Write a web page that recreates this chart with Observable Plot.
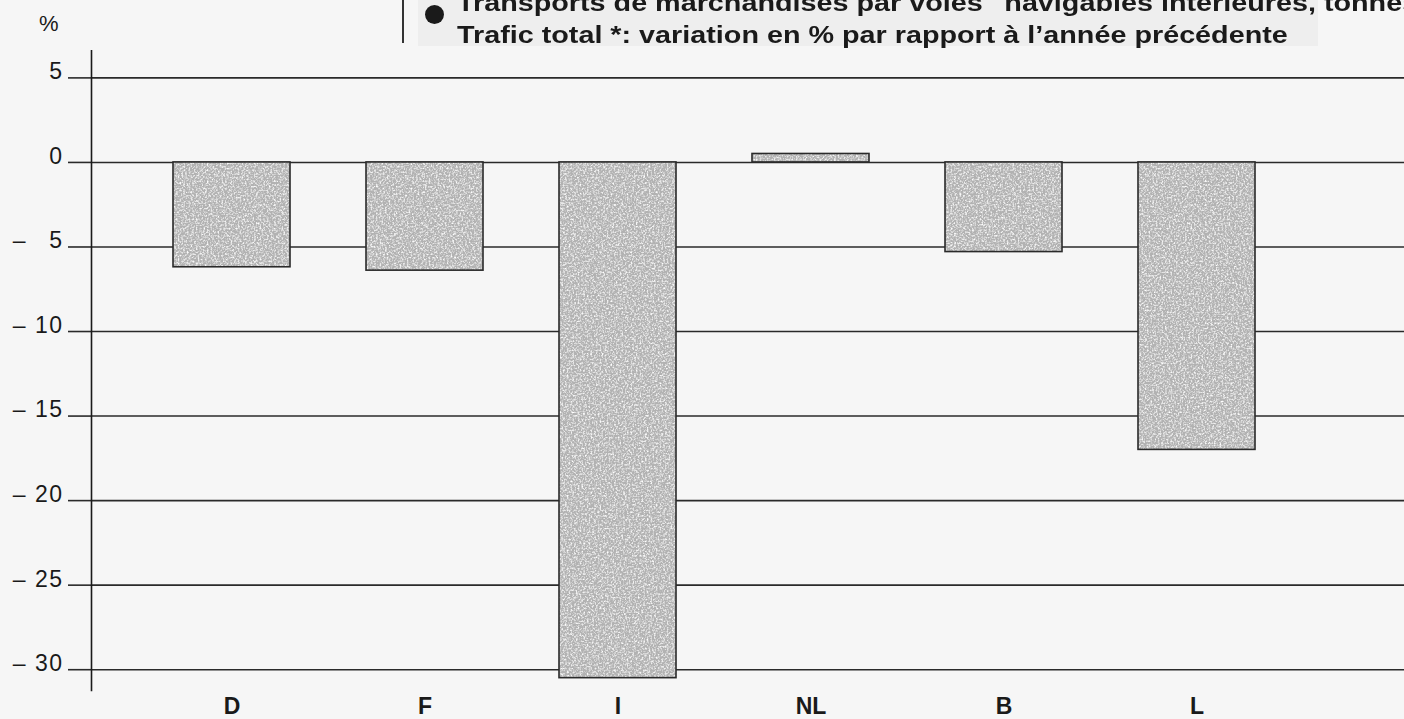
<!DOCTYPE html>
<html><head><meta charset="utf-8">
<script src="https://cdn.jsdelivr.net/npm/d3@7"></script>
<script src="https://cdn.jsdelivr.net/npm/@observablehq/plot@0.6"></script>
<style>
html,body{margin:0;padding:0;background:#f6f6f6;overflow:hidden}
#wrap{position:relative;width:1404px;height:719px;font-family:"Liberation Sans",Arial,sans-serif;color:#1a1a1a}
#head{position:relative;height:50px;overflow:hidden}
#pct{position:absolute;left:39px;top:13px;font-size:22px;line-height:22px}
#vline{position:absolute;left:402px;top:0;width:2px;height:43px;background:#333}
#tbox{position:absolute;left:418px;top:0;width:900px;height:46px;background:#eeeeee}
#bullet{position:absolute;left:425px;top:5px;width:19px;height:19px;border-radius:50%;background:#1a1a1a}
.t{position:absolute;left:457px;font-size:23px;line-height:23px;font-weight:bold;white-space:nowrap;transform:scaleX(1.25);transform-origin:0 0}
#t1{top:-8.5px}
#t2{top:23.5px}
#chart svg{display:block}
</style></head><body>
<div id="wrap">
 <div id="head">
  <div id="tbox"></div>
  <div id="pct">%</div>
  <div id="vline"></div>
  <div id="bullet"></div>
  <div class="t" id="t1">Transports de marchandises par voies "navigables intérieures, tonnes</div>
  <div class="t" id="t2">Trafic total *: variation en % par rapport à l’année précédente</div>
 </div>
 <div id="chart"></div>
</div>
<script>
const countries = ["D", "F", "I", "NL", "B", "L"];
const values = [-6.2, -6.4, -30.5, 0.5, -5.3, -17.0];
const yTicks = [5, 0, -5, -10, -15, -20, -25, -30];
const yTickLabels = ["5", "0", "– \u20075", "– 10", "– 15", "– 20", "– 25", "– 30"];

const data = countries.map((c, i) => ({country: c, value: values[i]}));

const chart = Plot.plot({
  width: 1404,
  height: 669,
  marginLeft: 91,
  marginRight: 0,
  marginTop: 0,
  marginBottom: 29,
  style: {background: "transparent", fontFamily: "Liberation Sans, Arial, sans-serif", color: "#1a1a1a"},
  x: {domain: countries, range: [91, 1337], paddingInner: 0.392, paddingOuter: 0.41, label: null},
  y: {domain: [-31.23, 6.62], label: null},
  marks: [
    Plot.ruleY(yTicks, {stroke: "#2a2a2a", strokeWidth: 1.6}),
    Plot.barY(data, {x: "country", y: "value", fill: "#b2b2b2", className: "grainbars"}),
    Plot.barY(data, {x: "country", y: "value", fill: "none", stroke: "#2a2a2a", strokeWidth: 1.6}),
    // tick marks (extend gridlines left of the axis)
    Plot.axisY({ticks: yTicks, tickSize: 23, stroke: "#2a2a2a", strokeWidth: 1.6, tickFormat: () => ""}),
    // tick labels, sitting slightly above their lines
    Plot.axisY({ticks: yTicks, tickSize: 0, tickPadding: 28, fontSize: 23, dy: -6, className: "yticks",
      tickFormat: d => yTickLabels[yTicks.indexOf(d)]}),
    Plot.axisX({tickSize: 0, tickPadding: 7.5, fontSize: 23, fontWeight: "bold"}),
    Plot.frame({anchor: "left", stroke: "#1a1a1a", strokeWidth: 1.6})
  ]
});

const svg = d3.select(chart);
svg.selectAll(".yticks text").attr("letter-spacing", "1.5px");

// speckle texture for the bars (deterministic SVG noise filter)
const defs = svg.insert("defs", ":first-child");
const f = defs.append("filter").attr("id", "grain").attr("x", 0).attr("y", 0).attr("width", "100%").attr("height", "100%");
f.append("feTurbulence").attr("type", "fractalNoise").attr("baseFrequency", 0.55).attr("numOctaves", 3).attr("seed", 4).attr("result", "n");
f.append("feColorMatrix").attr("in", "n").attr("type", "matrix")
  .attr("values", "0 0 0 0 1  0 0 0 0 1  0 0 0 0 1  2.4 0 0 0 -1.05").attr("result", "w");
f.append("feComposite").attr("in", "w").attr("in2", "SourceGraphic").attr("operator", "in").attr("result", "wc");
const m = f.append("feMerge");
m.append("feMergeNode").attr("in", "SourceGraphic");
m.append("feMergeNode").attr("in", "wc");
svg.selectAll(".grainbars rect").attr("filter", "url(#grain)");

document.getElementById("chart").appendChild(chart);
</script>
</body></html>
